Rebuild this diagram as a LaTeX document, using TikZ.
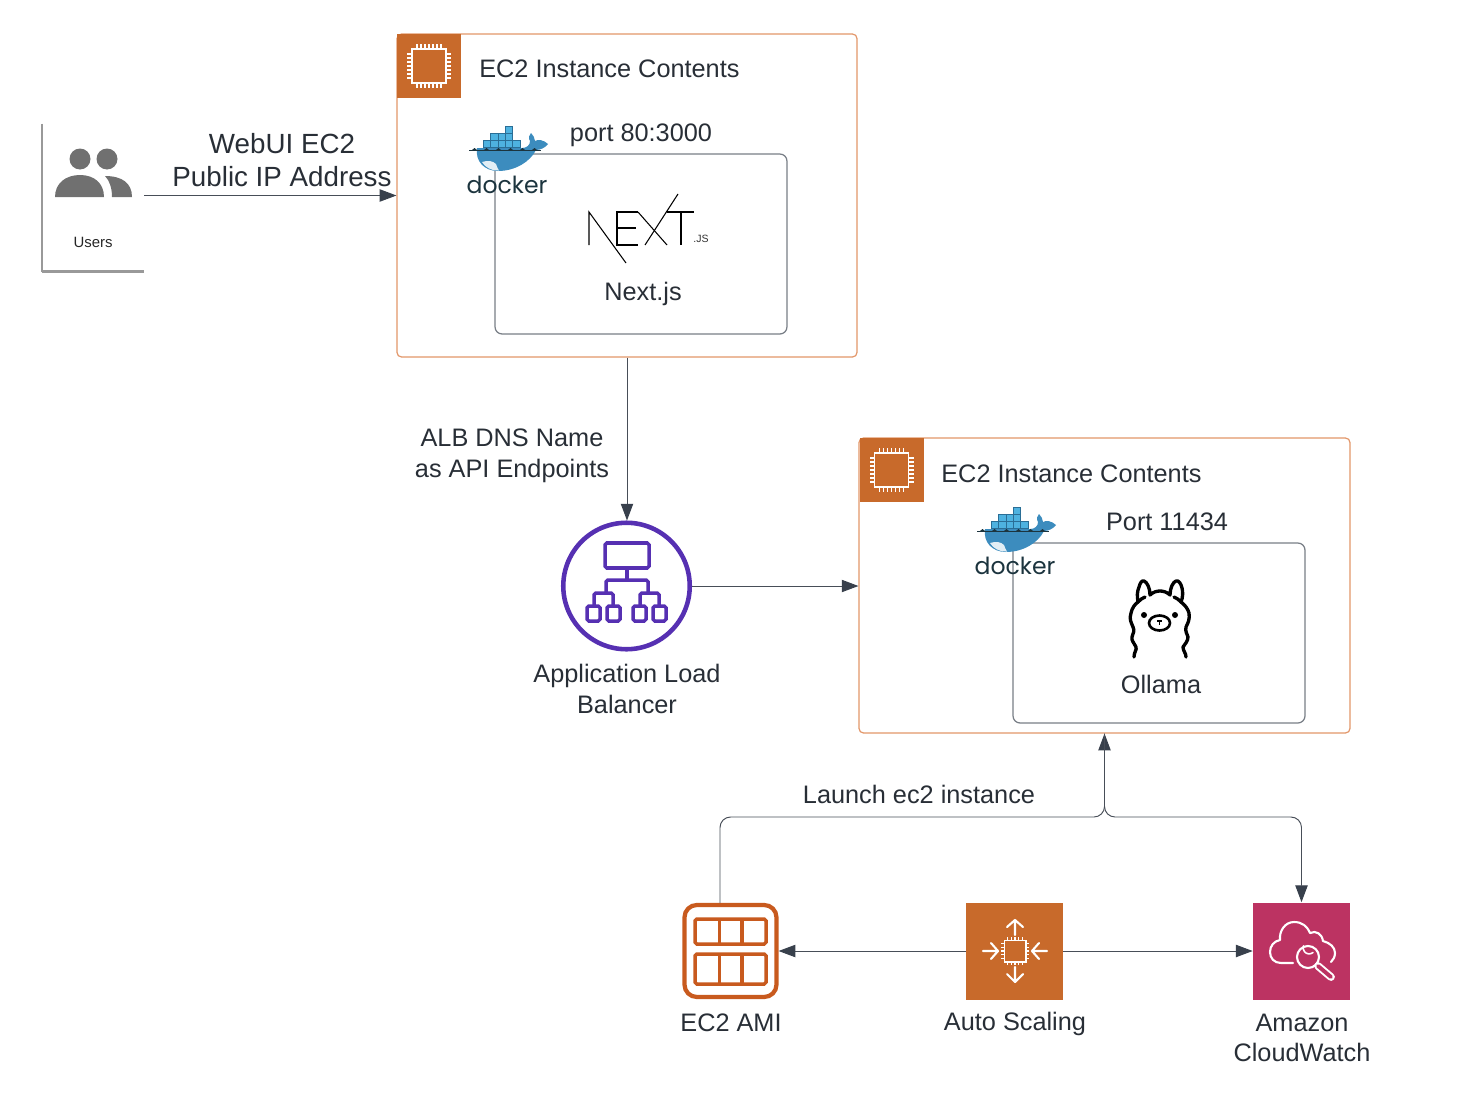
\documentclass[tikz,border=0pt]{standalone}
\usepackage{fontspec}
\setmainfont{Liberation Sans}
\newfontfamily\dockerfont{Poppins}
\usetikzlibrary{arrows.meta}

\definecolor{ec2orange}{RGB}{200,106,43}
\definecolor{ec2edge}{RGB}{226,150,105}
\definecolor{amiorange}{RGB}{200,90,30}
\definecolor{albpurple}{RGB}{86,48,178}
\definecolor{cwpink}{RGB}{188,51,98}
\definecolor{wirecol}{RGB}{56,64,76}
\definecolor{wireline}{RGB}{72,78,88}
\definecolor{boxgrey}{RGB}{120,126,134}
\definecolor{lbltext}{RGB}{40,46,54}
\definecolor{usergrey}{RGB}{112,112,112}
\definecolor{whaleblue}{RGB}{60,140,190}
\definecolor{crateblue}{RGB}{78,178,224}
\definecolor{crateedge}{RGB}{42,110,150}
\definecolor{dockerink}{RGB}{28,52,62}

\tikzset{
	lbl/.style={font=\fontsize{14.4}{17.3}\selectfont, text=lbltext, align=center, inner sep=0},
	wire/.style={draw=wireline, line width=0.55pt, -{Triangle[length=9.5pt,width=7pt,color=wirecol]}},
	ec2box/.style={draw=ec2edge, rounded corners=2.5pt, line width=0.7pt, inner sep=0},
	innerbox/.style={draw=boxgrey, rounded corners=4pt, line width=0.7pt, inner sep=0, minimum width=5.84cm, minimum height=3.6cm},
	tile/.style={fill=#1, inner sep=0, minimum size=1.94cm},
	whiteline/.style={draw=white, line width=1.2pt, line cap=round, line join=round},
	lamaline/.style={draw=black, line width=1.9pt, line cap=round, line join=round},
	logoline/.style={draw=black, line width=0.6pt},
	pics/chipicon/.style={code={
		\draw[white, line width=1.1pt] (-17,-17) rectangle (17,17);
		\foreach \k in {#1} {
			\draw[white, line width=0.7pt] (\k,-17) -- (\k,-22);
			\draw[white, line width=0.7pt] (\k,17) -- (\k,22);
			\draw[white, line width=0.7pt] (-17,\k) -- (-22,\k);
			\draw[white, line width=0.7pt] (17,\k) -- (22,\k);
		}
	}},
	pics/dockerlogo/.style={code={
		% crates
		\foreach \xa/\ya in {45/11, 30.7/18.3, 38/18.3, 45.3/18.3, 23.3/25, 30.7/25, 38/25, 45.3/25, 52.6/25} {
			\draw[fill=crateblue, draw=crateedge, line width=0.3pt] (\xa,\ya) rectangle ++(7.3,7.2);
		}
		% whale
		\fill[whaleblue] (17,33) -- (62,33) .. controls (67,33) and (70,30) .. (70,26) .. controls (68,23) and (69,20) .. (71,18) .. controls (73,20) and (75,23) .. (75,26) .. controls (78,24) and (84,25) .. (88,29) .. controls (85,33) and (80,35) .. (76,35) .. controls (70,47) and (55,56) .. (38,56) .. controls (25,56) and (15,47) .. (17,33) -- cycle;
		\fill[white!85!whaleblue] (22,47) .. controls (28,45) and (33,46) .. (36,49) .. controls (37,52) and (38,54) .. (39,55.5) .. controls (31,56) and (25,52) .. (22,47) -- cycle;
		\draw[dockerink, line width=0.5pt] (9,35) -- (81,35);
		\foreach \xa in {12,24,36,48,60,72} {
			\fill[dockerink] (\xa,35) -- ++(2.5,-2) -- ++(2.5,2) -- cycle;
		}
		\node[font=\dockerfont\fontsize{13.4}{14}\selectfont, text=dockerink, inner sep=0] (-word) at (47,70) {docker};
	}}
}

\begin{document}
\begin{tikzpicture}[x=0.02cm, y=-0.02cm]
	\useasboundingbox (0,0) rectangle (1474,1102);

	% Paths, nodes and wires:
	\node[ec2box, minimum width=9.2cm, minimum height=6.46cm] (ec2web) at (627,195.5) {};
	\node[tile=ec2orange, minimum size=1.28cm] (tileweb) at (429,66) {};
	\pic at (tileweb.center) {chipicon={-12,-8,-4,0,4,8,12}};
	\node[lbl, anchor=west] (titleweb) at (479,69) {EC2 Instance Contents};
	\node[innerbox] (dockweb) at (641,244) {};
	\pic (whaleweb) at (460,115) {dockerlogo};
	\node[lbl] (portweb) at (641,135) {port 80:3000};
	\node[lbl] (nextname) at (643,294) {Next.js};

	% next logo
	\draw[logoline] (589,245) -- (589,212) -- (626,263);
	\draw[logoline] (638,212) -- (617,212) -- (617,245) -- (638,245);
	\draw[logoline] (617,228) -- (636,228);
	\draw[logoline] (638,212) -- (667,245);
	\draw[logoline] (678,194) -- (645,245);
	\draw[logoline] (667,212) -- (694,212);
	\draw[logoline] (681,212) -- (681,245);
	\node[font=\fontsize{6}{7}\selectfont, text=black!80, inner sep=0] (nextjs) at (701,239) {.JS};

	\node[ec2box, minimum width=9.82cm, minimum height=5.9cm] (ec2llm) at (1104.5,585.5) {};
	\node[tile=ec2orange, minimum size=1.28cm] (tilellm) at (891.5,470) {};
	\pic at (tilellm.center) {chipicon={-12,-8,-4,0,4,8,12}};
	\node[lbl, anchor=west] (titlellm) at (941,474) {EC2 Instance Contents};
	\node[innerbox] (docklm) at (1159,633) {};
	\pic (whalellm) at (968,496) {dockerlogo};
	\node[lbl] (portllm) at (1167,522) {Port 11434};
	\node[lbl] (llamaname) at (1161,684) {Ollama};

	% llama
	\draw[lamaline] (1134,657) .. controls (1134,652) and (1137,650) .. (1136,647) .. controls (1134,643) and (1131,640) .. (1132,637) .. controls (1133,633) and (1135,631) .. (1133,627) .. controls (1131,622) and (1129,619) .. (1131,613) .. controls (1132,608) and (1135,604) .. (1138,602) .. controls (1137,596) and (1137,592) .. (1139,587) .. controls (1140,583) and (1142,580) .. (1144,581) .. controls (1147,582) and (1150,588) .. (1150,595) .. controls (1153,592) and (1157,591) .. (1160,591) .. controls (1163,591) and (1167,592) .. (1170,595) .. controls (1170,588) and (1173,582) .. (1176,581) .. controls (1179,580) and (1181,584) .. (1182,588) .. controls (1183,592) and (1183,597) .. (1181,602) .. controls (1185,605) and (1188,609) .. (1189,613) .. controls (1190,619) and (1188,623) .. (1186,627) .. controls (1185,631) and (1187,634) .. (1188,637) .. controls (1188,641) and (1185,644) .. (1183,647) .. controls (1183,651) and (1186,653) .. (1186,657);
	\draw[lamaline] (1138,602) .. controls (1140,600) and (1142,598) .. (1145,597);
	\draw[lamaline] (1181,602) .. controls (1179,600) and (1177,598) .. (1174,597);
	\fill (1144,615) circle (3);
	\fill (1175,615) circle (3);
	\draw[lamaline, line width=1.5pt] (1159.5,623) ellipse (10.5 and 7.5);
	\draw[line width=0.8pt] (1157,621) -- (1162,621) (1159.5,621) -- (1159.5,625);

	% users
	\node[minimum width=2.04cm, minimum height=2.94cm, inner sep=0] (users) at (93,197.5) {};
	\draw[draw=black!40, line width=1pt] (users.north west) |- (users.south east);
	\draw[draw=black!40, line width=1.7pt] (users.south west) -- (users.south east);
	\fill[usergrey] (80,159) circle (10.5);
	\fill[usergrey] (107,159) circle (10.5);
	\fill[usergrey] (55,197) .. controls (55,183) and (66,175) .. (80,175) .. controls (94,175) and (104,183) .. (104,197) -- cycle;
	\fill[usergrey] (105,176) .. controls (122,176) and (132,183) .. (132,197) -- (112,197) .. controls (112,189) and (110,181) .. (105,176) -- cycle;
	\node[font=\fontsize{8.5}{10}\selectfont, text=black!85, inner sep=0] (usersname) at (93,242) {Users};

	% load balancer
	\node[circle, draw=albpurple, line width=2.6pt, minimum size=2.53cm, inner sep=0] (alb) at (626.5,586) {};
	\begin{scope}[draw=albpurple, line width=2pt, rounded corners=1pt]
		\draw (605,543) rectangle (649,568);
		\draw (627,568) -- (627,580);
		\draw (606,592) -- (606,580) -- (648,580) -- (648,592);
		\draw (594,605) -- (594,593) -- (613,593) -- (613,605);
		\draw (640,605) -- (640,593) -- (659,593) -- (659,605);
		\draw (587,606) rectangle (600,621);
		\draw (607,606) rectangle (620,621);
		\draw (633,606) rectangle (646,621);
		\draw (653,606) rectangle (666,621);
	\end{scope}
	\node[lbl] (albname) at (627,689) {Application Load\\Balancer};

	% ami
	\node[draw=amiorange, line width=2.4pt, rounded corners=7pt, minimum size=1.84cm, inner sep=0] (ami) at (730.5,951) {};
	\begin{scope}[draw=amiorange, line width=2pt, rounded corners=1pt]
		\draw (695,919) rectangle (766,944);
		\draw (695,954) rectangle (766,984);
		\draw (719.5,919) -- (719.5,944) (742,919) -- (742,944);
		\draw (719.5,954) -- (719.5,984) (742,954) -- (742,984);
	\end{scope}
	\node[lbl] (aminame) at (731,1023) {EC2 AMI};

	% auto scaling
	\node[tile=ec2orange] (scaling) at (1014.5,951) {};
	\pic[scale=0.62] at (1015,951) {chipicon={-12,-6,0,6,12}};
	\draw[whiteline] (1015,935) -- (1015,920) (1007,927) -- (1015,920) -- (1023,927);
	\draw[whiteline] (1015,967) -- (1015,982) (1007,974) -- (1015,982) -- (1023,974);
	\draw[whiteline] (983,951) -- (998,951) (991,943) -- (998,951) -- (991,959);
	\draw[whiteline] (1047,951) -- (1032,951) (1039,943) -- (1032,951) -- (1039,959);
	\node[lbl] (scalingname) at (1015,1024) {Auto Scaling};

	% cloudwatch
	\node[tile=cwpink] (watch) at (1301.5,951) {};
	\draw[whiteline] (1293,963) -- (1281,963) .. controls (1274,963) and (1270,958) .. (1270,952) .. controls (1270,946) and (1274,941) .. (1280,940) .. controls (1279,931) and (1285,922) .. (1294,922) .. controls (1302,922) and (1307,926) .. (1310,933) .. controls (1316,930) and (1322,934) .. (1323,941) .. controls (1330,943) and (1335,947) .. (1335,953) .. controls (1335,957) and (1333,960) .. (1331,962);
	\draw[whiteline, fill=cwpink] (1308,957) circle (11);
	\draw[whiteline, line width=0.9pt] (1313,952.5) arc (50:200:6);
	\draw[draw=white, line width=4.4pt, line cap=round] (1318,966) -- (1331,977);
	\draw[draw=cwpink, line width=2.2pt, line cap=round] (1318,966) -- (1331,977);
	\node[lbl] (watchname) at (1302,1038) {Amazon\\CloudWatch};

	% connectors
	\coordinate (amitop) at (720,903);
	\coordinate (launchjoin) at (1104.5,817);
	\draw[wire] (users.east |- ec2web.west) -- (ec2web.west);
	\draw[wire] (ec2web.south) -- (ec2web.south |- alb.north);
	\draw[wire] (alb.east) -- (alb.east -| ec2llm.west);
	\draw[wire, rounded corners=6pt] (amitop) |- (launchjoin) -- (ec2llm.south);
	\draw[wire, rounded corners=6pt] (ec2llm.south) -- (launchjoin) -| (watch.north);
	\draw[wire] (scaling.west) -- (ami.east);
	\draw[wire] (scaling.east) -- (watch.west);

	\node[lbl, font=\fontsize{15.8}{19.2}\selectfont] (webtext) at (282,160) {WebUI EC2\\Public IP Address};
	\node[lbl, font=\fontsize{14.4}{17.7}\selectfont] (dnstext) at (512,456) {ALB DNS Name\\as API Endpoints};
	\node[lbl] (launchtext) at (919,794) {Launch ec2 instance};
\end{tikzpicture}
\end{document}
